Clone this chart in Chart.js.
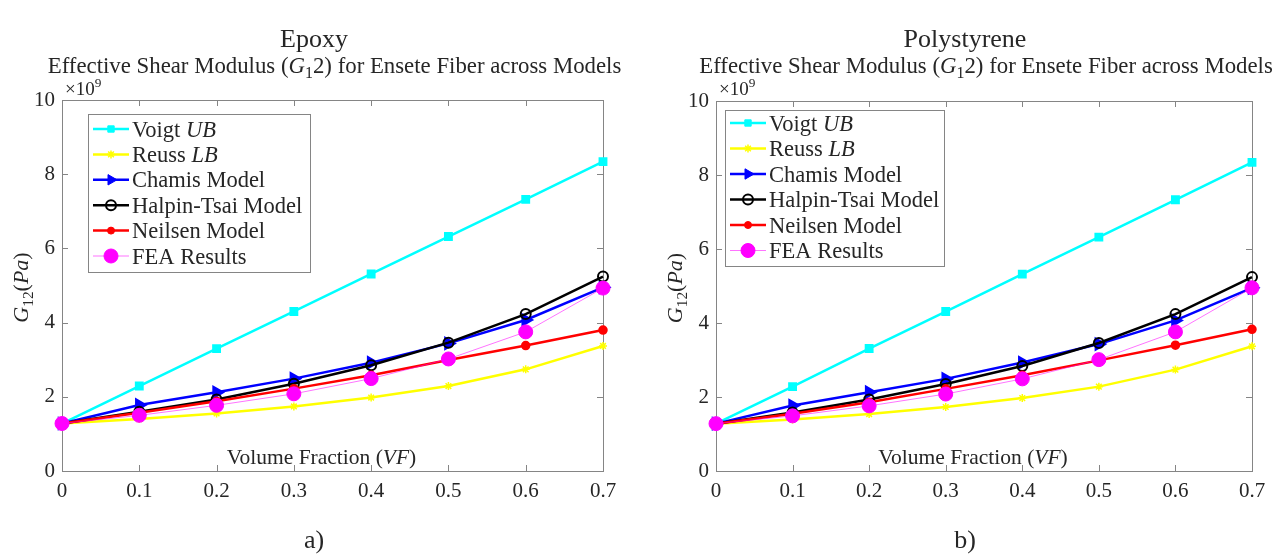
<!DOCTYPE html>
<html>
<head>
<meta charset="utf-8">
<title>Effective Shear Modulus G12</title>
<script src="https://cdn.jsdelivr.net/npm/chart.js@4/dist/chart.umd.min.js"></script>
<style>
  html, body { margin: 0; padding: 0; background: #fff; }
  #wrap { position: relative; width: 1280px; height: 557px; }
  canvas { position: absolute; top: 0; }
  #epoxyChart { left: 0; }
  #polyChart { left: 640px; }
</style>
</head>
<body>
<div id="wrap">
  <canvas id="epoxyChart" width="640" height="557"></canvas>
  <canvas id="polyChart" width="640" height="557"></canvas>
</div>
<script>
// Volume fraction (x) and tick labels
const volumeFraction = [0, 0.1, 0.2, 0.3, 0.4, 0.5, 0.6, 0.7];
const xTicks = [0, 0.1, 0.2, 0.3, 0.4, 0.5, 0.6, 0.7];
const xTickLabels = ['0', '0.1', '0.2', '0.3', '0.4', '0.5', '0.6', '0.7'];
const yTicks = [0, 2, 4, 6, 8, 10];
const yTickLabels = ['0', '2', '4', '6', '8', '10'];

// G12 values, in units of 1e9 Pa — epoxy matrix
const epoxyVoigt   = [1.28, 2.29, 3.30, 4.30, 5.31, 6.32, 7.32, 8.34];
const epoxyReuss   = [1.28, 1.40, 1.55, 1.74, 1.98, 2.29, 2.74, 3.37];
const epoxyChamis  = [1.28, 1.78, 2.12, 2.49, 2.92, 3.44, 4.07, 4.95];
const epoxyHalpin  = [1.28, 1.60, 1.93, 2.35, 2.85, 3.46, 4.23, 5.24];
const epoxyNeilsen = [1.28, 1.57, 1.88, 2.22, 2.58, 2.99, 3.38, 3.80];
const epoxyFea     = [1.28, 1.50, 1.77, 2.08, 2.49, 3.02, 3.75, 4.93];

// G12 values, in units of 1e9 Pa — polystyrene matrix
const polyVoigt   = [1.28, 2.28, 3.31, 4.31, 5.32, 6.32, 7.33, 8.34];
const polyReuss   = [1.28, 1.39, 1.54, 1.73, 1.97, 2.28, 2.74, 3.37];
const polyChamis  = [1.28, 1.77, 2.13, 2.49, 2.93, 3.43, 4.07, 4.95];
const polyHalpin  = [1.28, 1.58, 1.93, 2.35, 2.84, 3.46, 4.24, 5.24];
const polyNeilsen = [1.28, 1.55, 1.86, 2.22, 2.59, 2.99, 3.40, 3.83];
const polyFea     = [1.28, 1.49, 1.76, 2.08, 2.49, 3.01, 3.76, 4.95];

const SERIF = '"Liberation Serif", "Times New Roman", serif';
const TEXT = '#262626';
const AXIS = '#858585';

// Draw a run of text pieces (plain / italic / subscript / superscript)
function richWidth(ctx, segs, size) {
  let w = 0;
  segs.forEach(s => {
    const sz = (s.sub || s.sup) ? size * 0.7 : size;
    ctx.font = (s.it ? 'italic ' : '') + sz + 'px ' + SERIF;
    w += ctx.measureText(s.t).width;
  });
  return w;
}

function drawRich(ctx, segs, x, y, size, align) {
  ctx.save();
  ctx.textBaseline = 'alphabetic';
  ctx.textAlign = 'left';
  ctx.fillStyle = TEXT;
  let cx = x;
  if (align === 'center') cx = x - richWidth(ctx, segs, size) / 2;
  segs.forEach(s => {
    const sz = (s.sub || s.sup) ? size * 0.7 : size;
    ctx.font = (s.it ? 'italic ' : '') + sz + 'px ' + SERIF;
    let dy = 0;
    if (s.sub) dy = size * 0.22;
    if (s.sup) dy = -size * 0.42;
    ctx.fillText(s.t, cx, y + dy);
    cx += ctx.measureText(s.t).width;
  });
  ctx.restore();
}

function makeDatasets(v, r, c, h, n, f) {
  const pts = arr => arr.map((y, i) => ({ x: volumeFraction[i], y: y }));
  return [
    { label: 'Voigt', italic: 'UB', data: pts(v), borderColor: '#00ffff', backgroundColor: '#00ffff',
      borderWidth: 2.5, pointStyle: 'rect', pointRadius: 4.5, order: 5 },
    { label: 'Reuss', italic: 'LB', data: pts(r), borderColor: '#ffff00', backgroundColor: '#ffff00',
      borderWidth: 2.5, pointStyle: 'star', pointRadius: 4, pointBorderWidth: 1.5, order: 4 },
    { label: 'Chamis Model', data: pts(c), borderColor: '#0000ff', backgroundColor: '#0000ff',
      borderWidth: 2.5, pointStyle: 'triangle', pointRotation: 90, pointRadius: 6, order: 3 },
    { label: 'Halpin-Tsai Model', data: pts(h), borderColor: '#000000', backgroundColor: 'rgba(0,0,0,0)',
      borderWidth: 2.5, pointStyle: 'circle', pointRadius: 5, pointBorderWidth: 2, order: 2 },
    { label: 'Neilsen Model', data: pts(n), borderColor: '#ff0000', backgroundColor: '#ff0000',
      borderWidth: 2.5, pointStyle: 'circle', pointRadius: 3.5, order: 1 },
    { label: 'FEA Results', data: pts(f), borderColor: 'rgba(255,0,255,0.55)', backgroundColor: '#ff00ff',
      pointBorderColor: '#ff00ff', borderWidth: 1, pointStyle: 'circle', pointRadius: 7, order: 0 }
  ];
}

// Box, inward ticks, legend and all annotation text
const decorPlugin = {
  id: 'decor',
  beforeDatasetsDraw(chart) {
    const { ctx, chartArea: a, scales } = chart;
    ctx.save();
    ctx.strokeStyle = AXIS;
    ctx.lineWidth = 1;
    ctx.strokeRect(a.left + 0.5, a.top + 0.5, a.right - a.left, a.bottom - a.top);
    ctx.beginPath();
    xTicks.forEach(v => {
      const px = Math.round(scales.x.getPixelForValue(v)) + 0.5;
      ctx.moveTo(px, a.bottom); ctx.lineTo(px, a.bottom - 6);
      ctx.moveTo(px, a.top); ctx.lineTo(px, a.top + 6);
    });
    yTicks.forEach(v => {
      const py = Math.round(scales.y.getPixelForValue(v)) + 0.5;
      ctx.moveTo(a.left, py); ctx.lineTo(a.left + 6, py);
      ctx.moveTo(a.right, py); ctx.lineTo(a.right - 6, py);
    });
    ctx.stroke();
    ctx.restore();
  },
  afterDatasetsDraw(chart) {
    const { ctx } = chart;
    const cfg = chart.options.plugins.decor;
    const lg = cfg.legend;
    ctx.save();
    ctx.fillStyle = '#fff';
    ctx.fillRect(lg.x, lg.y, lg.w, lg.h);
    ctx.strokeStyle = AXIS;
    ctx.lineWidth = 1;
    ctx.strokeRect(lg.x + 0.5, lg.y + 0.5, lg.w, lg.h);
    chart.data.datasets.forEach((ds, i) => {
      const y = lg.row0 + i * lg.step;
      const x0 = lg.x + 5, x1 = lg.x + 41;
      ctx.strokeStyle = ds.borderColor;
      ctx.lineWidth = ds.borderWidth;
      ctx.beginPath(); ctx.moveTo(x0, y); ctx.lineTo(x1, y); ctx.stroke();
      ctx.fillStyle = ds.backgroundColor;
      ctx.strokeStyle = ds.pointBorderColor || ds.borderColor;
      const opts = { pointStyle: ds.pointStyle, rotation: ds.pointRotation || 0,
        radius: ds.pointRadius, borderWidth: ds.pointBorderWidth || 1 };
      ctx.lineWidth = opts.borderWidth;
      Chart.helpers.drawPoint(ctx, opts, (x0 + x1) / 2, y);
      const segs = [{ t: ds.label }];
      if (ds.italic) segs.push({ t: ' ' }, { t: ds.italic, it: true });
      drawRich(ctx, segs, lg.x + 44, y + 7.5, 22.5, 'left');
    });
    ctx.restore();
  },
  afterDraw(chart) {
    const { ctx, chartArea: a } = chart;
    const cfg = chart.options.plugins.decor;
    // panel heading and caption
    drawRich(ctx, [{ t: cfg.heading }], cfg.center, 47, 26, 'center');
    drawRich(ctx, [{ t: cfg.caption }], cfg.center, 548, 26, 'center');
    // plot title
    drawRich(ctx, [{ t: 'Effective Shear Modulus (' }, { t: 'G', it: true }, { t: '1', sub: true },
      { t: '2) for Ensete Fiber across Models' }], (a.left + a.right) / 2 + 2, 73, 22.8, 'center');
    // exponent marker
    drawRich(ctx, [{ t: '\u00d710' }, { t: '9', sup: true }], a.left + 3, 95, 19, 'left');
    // x label sits inside the axes
    drawRich(ctx, [{ t: 'Volume Fraction (' }, { t: 'VF', it: true }, { t: ')' }],
      (a.left + a.right) / 2 - 11, a.bottom - 7, 21.5, 'center');
    // y label
    ctx.save();
    ctx.translate(a.left - 34, (a.top + a.bottom) / 2 + 2);
    ctx.rotate(-Math.PI / 2);
    drawRich(ctx, [{ t: 'G', it: true }, { t: '12', sub: true }, { t: '(' }, { t: 'Pa', it: true }, { t: ')' }],
      0, 0, 22, 'center');
    ctx.restore();
  }
};

function buildChart(id, datasets, box, decor) {
  const tickFont = { family: SERIF, size: 21 };
  return new Chart(document.getElementById(id), {
    type: 'line',
    data: { datasets: datasets },
    plugins: [decorPlugin],
    options: {
      responsive: false,
      animation: false,
      devicePixelRatio: 1,
      layout: { padding: { top: box.top, right: 640 - box.right, left: 0, bottom: 0 } },
      elements: { line: { tension: 0 } },
      plugins: {
        legend: { display: false },
        tooltip: { enabled: false },
        decor: decor
      },
      datasets: { line: { clip: false } },
      scales: {
        x: {
          type: 'linear', min: 0, max: 0.7,
          grid: { display: false, drawTicks: false }, border: { display: false },
          afterBuildTicks: s => { s.ticks = xTicks.map(v => ({ value: v })); },
          afterFit: s => { s.height = 557 - box.bottom; },
          ticks: { font: tickFont, color: TEXT, padding: 8, maxRotation: 0, autoSkip: false,
            callback: (v, i) => xTickLabels[i] }
        },
        y: {
          type: 'linear', min: 0, max: 10,
          grid: { display: false, drawTicks: false }, border: { display: false },
          afterBuildTicks: s => { s.ticks = yTicks.map(v => ({ value: v })); },
          afterFit: s => { s.width = box.left; },
          ticks: { font: tickFont, color: TEXT, padding: 7, autoSkip: false,
            callback: (v, i) => yTickLabels[i] }
        }
      }
    }
  });
}

buildChart('epoxyChart',
  makeDatasets(epoxyVoigt, epoxyReuss, epoxyChamis, epoxyHalpin, epoxyNeilsen, epoxyFea),
  { left: 62, right: 603, top: 100, bottom: 471 },
  { heading: 'Epoxy', caption: 'a)', center: 314,
    legend: { x: 88, y: 114, w: 222, h: 158, row0: 129, step: 25.4 } });

buildChart('polyChart',
  makeDatasets(polyVoigt, polyReuss, polyChamis, polyHalpin, polyNeilsen, polyFea),
  { left: 76, right: 612, top: 101, bottom: 471 },
  { heading: 'Polystyrene', caption: 'b)', center: 325,
    legend: { x: 85, y: 110, w: 219, h: 156, row0: 123, step: 25.5 } });
</script>
</body>
</html>
